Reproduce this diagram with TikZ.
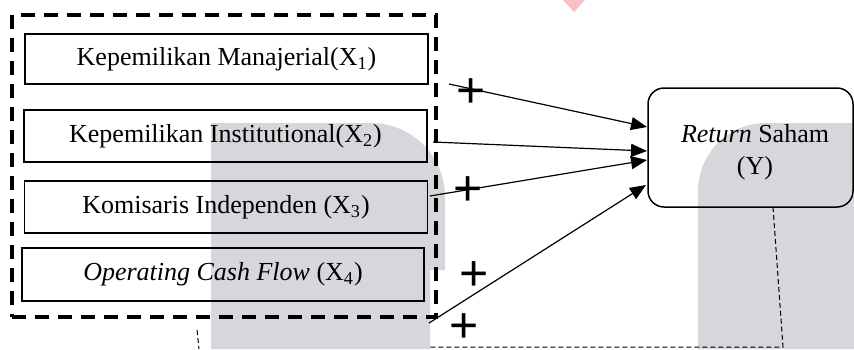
\documentclass[tikz,border=0pt]{standalone}
\usepackage{fontspec}
\setmainfont{Liberation Serif}
\newfontfamily\plusfont{Liberation Sans}
\usetikzlibrary{arrows.meta}
\definecolor{wmgrey}{RGB}{214,215,218}
\definecolor{wmpink}{RGB}{246,192,196}
\begin{document}
\begin{tikzpicture}[x=0.5pt,y=-0.5pt,
 varbox/.style={draw, line width=0.75pt, minimum width=201.5pt, minimum height=26pt, inner sep=0pt, font=\fontsize{13}{15.6}\selectfont},
 groupbox/.style={draw, line width=1.8pt, dash pattern=on 7pt off 4.5pt, minimum width=212pt, minimum height=151pt, inner sep=0pt},
 ybox/.style={draw, line width=0.75pt, rounded corners=8pt, minimum width=102.5pt, minimum height=59.5pt, inner sep=0pt},
 ytext/.style={align=center, font=\fontsize{13}{16}\selectfont, inner sep=0pt},
 arr/.style={-{Triangle[length=8pt,width=6.5pt]}, line width=0.6pt},
 plussign/.style={font=\plusfont\fontsize{25}{25}\selectfont, inner sep=0pt},
 modline/.style={line width=0.5pt, dash pattern=on 2.5pt off 1.5pt}]
\useasboundingbox (0,0) rectangle (854,349);
% watermark
\fill[wmgrey] (211,349) -- (211,123) [rounded corners=37pt] -- (445,123) [sharp corners] -- (445,270) -- (430,270) -- (430,349) -- cycle;
\fill[wmgrey] (698,349) [rounded corners=34pt] -- (698,123) [sharp corners] -- (854,123) -- (854,349) -- cycle;
\fill[wmpink] (563,0) -- (585,0) -- (574,12) -- cycle;
% variable boxes
\node[varbox, minimum height=25pt] (x1) at (226.5,59) {Kepemilikan Manajerial(X\textsubscript{1})};
\node[varbox] (x2) at (225.5,136) {Kepemilikan Institutional(X\textsubscript{2})};
\node[varbox] (x3) at (226,207) {Komisaris Independen (X\textsubscript{3})};
\node[varbox, minimum height=26.5pt, minimum width=201pt] (x4) at (223,274.5) {\textit{Operating Cash Flow} (X\textsubscript{4})};
\node[groupbox] (grp) at (224,166) {};
\node[ybox] (y) at (750.5,147.5) {};
\node[ytext] (ylab) at (755,152) {\textit{Return} Saham\\(Y)};
% connectors
\coordinate (s1) at (449,84);  \coordinate (e1) at (647,127);
\coordinate (s2) at (433,142); \coordinate (e2) at (647,151);
\coordinate (s3) at (430,196); \coordinate (e3) at (647,160);
\coordinate (s4) at (429,323); \coordinate (e4) at (646,185);
\draw[arr] (s1) -- (e1);
\draw[arr] (s2) -- (e2);
\draw[arr] (s3) -- (e3);
\draw[arr] (s4) -- (e4);
% plus signs
\node[plussign] (p1) at (471,93) {+};
\node[plussign] (p2) at (468,191) {+};
\node[plussign] (p3) at (474,276) {+};
\node[plussign] (p4) at (464,328) {+};
% thin dashed lines
\coordinate (m1) at (773,207); \coordinate (m2) at (783,347); \coordinate (m3) at (430,347);
\draw[modline] (m1) -- (m2) -- (m3);
\coordinate (m4) at (197,330); \coordinate (m5) at (199,349);
\draw[modline] (m4) -- (m5);
\end{tikzpicture}
\end{document}
